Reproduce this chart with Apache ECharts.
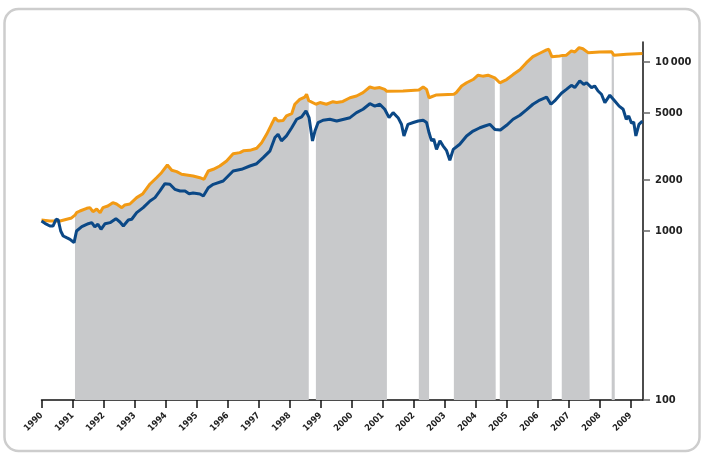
<!DOCTYPE html>
<html>
<head>
<meta charset="utf-8">
<script src="https://cdn.jsdelivr.net/npm/echarts@6/dist/echarts.min.js"></script>
<style>
html,body{margin:0;padding:0;background:#fff;}
#chart{width:702px;height:454px;}
</style>
</head>
<body>
<div id="chart"></div>
<script>
// x-axis tick labels (years)
const years = [1990,1991,1992,1993,1994,1995,1996,1997,1998,1999,2000,2001,2002,2003,2004,2005,2006,2007,2008,2009];
// y-axis tick labels (log scale)
const yTicks = [100, 1000, 2000, 5000, 10000];

// upper (orange) line: [year, value]
const orangeSeries = [
[1990.0,1160],[1990.27,1146],[1990.6,1146],[1990.97,1194],[1991.08,1240],[1991.13,1283],[1991.24,1313],[1991.46,1362],[1991.56,1374],[1991.66,1300],[1991.78,1349],[1991.89,1283],[1991.98,1374],[1992.14,1406],[1992.3,1470],[1992.42,1444],[1992.59,1374],[1992.69,1425],[1992.85,1444],[1993.07,1575],[1993.27,1662],[1993.5,1897],[1993.71,2066],[1993.87,2212],[1994.06,2456],[1994.2,2286],[1994.36,2243],[1994.52,2165],[1994.68,2144],[1994.89,2114],[1995.11,2066],[1995.24,2022],[1995.38,2264],[1995.54,2317],[1995.75,2423],[1995.97,2595],[1996.18,2867],[1996.4,2907],[1996.51,2979],[1996.72,3000],[1996.94,3085],[1997.1,3330],[1997.26,3732],[1997.42,4276],[1997.53,4680],[1997.63,4470],[1997.79,4500],[1997.9,4790],[1998.07,4940],[1998.17,5620],[1998.33,6010],[1998.49,6200],[1998.55,6440],[1998.62,5900],[1998.66,5750],[1998.85,5620],[1998.98,5750],[1999.19,5620],[1999.4,5820],[1999.52,5750],[1999.72,5840],[1999.95,6140],[2000.16,6290],[2000.37,6590],[2000.59,7110],[2000.75,6980],[2000.91,7050],[2001.07,6880],[2001.14,6700],[2001.18,6670],[2001.66,6730],[2002.17,6820],[2002.31,7110],[2002.42,6880],[2002.5,6140],[2002.74,6380],[2003.3,6440],[2003.38,6590],[2003.55,7210],[2003.71,7530],[2003.92,7870],[2004.08,8350],[2004.23,8240],[2004.4,8350],[2004.62,8050],[2004.65,8000],[2004.78,7530],[2005.0,7870],[2005.21,8420],[2005.43,8990],[2005.64,9900],[2005.85,10750],[2006.07,11260],[2006.29,11780],[2006.36,11890],[2006.46,10750],[2006.71,10850],[2006.78,10900],[2006.93,10960],[2007.09,11620],[2007.2,11450],[2007.34,12150],[2007.46,11980],[2007.63,11350],[2007.68,11350],[2008.0,11460],[2008.39,11500],[2008.46,10960],[2008.49,10980],[2008.87,11110],[2009.38,11220]
];

// lower (blue) line: [year, value]
const blueSeries = [
[1990.0,1146],[1990.11,1110],[1990.27,1070],[1990.37,1070],[1990.47,1173],[1990.54,1161],[1990.62,1000],[1990.7,934],[1990.81,913],[1990.92,893],[1991.05,853],[1991.13,1000],[1991.3,1060],[1991.51,1104],[1991.62,1120],[1991.72,1056],[1991.82,1096],[1991.92,1023],[1992.05,1104],[1992.21,1120],[1992.4,1182],[1992.53,1130],[1992.64,1070],[1992.8,1161],[1992.91,1173],[1993.07,1283],[1993.28,1374],[1993.5,1505],[1993.66,1575],[1993.82,1725],[1993.98,1905],[1994.14,1890],[1994.3,1764],[1994.47,1725],[1994.63,1725],[1994.76,1662],[1994.89,1678],[1995.11,1655],[1995.22,1611],[1995.38,1804],[1995.54,1888],[1995.86,1976],[1996.18,2264],[1996.45,2317],[1996.72,2423],[1996.94,2500],[1997.15,2714],[1997.37,2979],[1997.53,3570],[1997.63,3732],[1997.74,3410],[1997.9,3650],[1998.07,4080],[1998.23,4580],[1998.39,4730],[1998.53,5130],[1998.63,4680],[1998.74,3410],[1998.82,3900],[1998.92,4370],[1999.08,4520],[1999.3,4580],[1999.52,4470],[1999.72,4570],[1999.95,4680],[2000.16,5012],[2000.37,5250],[2000.59,5660],[2000.75,5480],[2000.91,5620],[2001.07,5250],[2001.21,4680],[2001.34,5012],[2001.5,4680],[2001.61,4276],[2001.69,3650],[2001.82,4276],[2001.99,4380],[2002.15,4470],[2002.31,4520],[2002.42,4380],[2002.5,3810],[2002.58,3410],[2002.65,3500],[2002.74,3040],[2002.85,3410],[2002.95,3190],[2003.06,3000],[2003.17,2620],[2003.28,3040],[2003.49,3260],[2003.71,3650],[2003.92,3900],[2004.14,4080],[2004.3,4180],[2004.46,4276],[2004.62,3990],[2004.8,3960],[2005.0,4220],[2005.21,4580],[2005.43,4840],[2005.64,5200],[2005.85,5620],[2006.07,5950],[2006.29,6200],[2006.43,5620],[2006.55,5880],[2006.77,6530],[2006.93,6880],[2007.09,7270],[2007.2,7050],[2007.36,7720],[2007.49,7370],[2007.58,7530],[2007.74,7050],[2007.84,7210],[2007.95,6730],[2008.06,6440],[2008.17,5750],[2008.33,6360],[2008.49,5880],[2008.63,5480],[2008.76,5250],[2008.86,4580],[2008.94,4790],[2009.03,4340],[2009.1,4410],[2009.17,3650],[2009.27,4276],[2009.38,4470]
];

// shaded periods [start year, end year]
const shadedPeriods = [
[1991.08,1998.62],[1998.85,2001.14],[2002.17,2002.5],[2003.3,2004.65],[2004.78,2006.46],[2006.78,2007.68],[2008.39,2008.49]
];

const lg = v => (v === '-' ? '-' : Math.log10(v));
const toLog = arr => arr.map(p => [p[0], lg(p[1])]);

// shade data: orange line restricted to shaded periods, broken between them
const shadeData = [];
shadedPeriods.forEach((per, i) => {
  orangeSeries.forEach(p => { if (p[0] >= per[0] - 1e-9 && p[0] <= per[1] + 1e-9) shadeData.push([p[0], lg(p[1])]); });
  if (i < shadedPeriods.length - 1) shadeData.push([(per[1] + shadedPeriods[i+1][0]) / 2, '-']);
});

const FONT = '"Liberation Sans Narrow","DejaVu Sans Condensed","Roboto Condensed",sans-serif';

const chart = echarts.init(document.getElementById('chart'));
chart.setOption({
  animation: false,
  backgroundColor: '#fff',
  graphic: [{
    type: 'rect', silent: true, z: -10,
    shape: {x: 4.5, y: 9, width: 695, height: 442, r: 14},
    style: {fill: 'none', stroke: '#cdcdcd', lineWidth: 2.5}
  }],
  grid: {left: 41.5, right: 59, top: 42, bottom: 54},
  xAxis: {
    type: 'value', min: 1990, max: 2009.4,
    axisLine: {show: true, lineStyle: {color: '#111', width: 1.5}},
    axisTick: {show: true, length: 8, customValues: years, lineStyle: {color: '#111', width: 1.5}},
    axisLabel: {customValues: years, rotate: 45, margin: 14, fontSize: 9, fontWeight: 'bold', color: '#222', fontFamily: FONT,
      formatter: v => String(Math.round(v))},
    splitLine: {show: false}
  },
  yAxis: {
    type: 'value', position: 'right', min: 2, max: 4.118,
    axisLine: {show: true, lineStyle: {color: '#111', width: 1.5}},
    axisTick: {show: true, length: 7, customValues: yTicks.map(Math.log10), lineStyle: {color: '#666', width: 1.5}},
    axisLabel: {customValues: yTicks.map(Math.log10), margin: 12, fontSize: 11, fontWeight: 'bold', color: '#222', fontFamily: FONT,
      formatter: v => { const n = Math.round(Math.pow(10, v)); return n >= 10000 ? String(n).replace(/(\d)(\d{3})$/, '$1\u2009$2') : String(n); }},
    splitLine: {show: false}
  },
  series: [
    {type: 'line', name: 'shade', data: shadeData, showSymbol: false, silent: true, z: 1,
     connectNulls: false, lineStyle: {width: 0, opacity: 0},
     areaStyle: {color: '#c8c9cb', opacity: 1, origin: 'start'}},
    {type: 'line', name: 'orange', data: toLog(orangeSeries), showSymbol: false, silent: true, z: 3,
     lineStyle: {color: '#f29a14', width: 3}},
    {type: 'line', name: 'blue', data: toLog(blueSeries), showSymbol: false, silent: true, z: 4,
     lineStyle: {color: '#0b4886', width: 3}}
  ]
});
</script>
</body>
</html>
